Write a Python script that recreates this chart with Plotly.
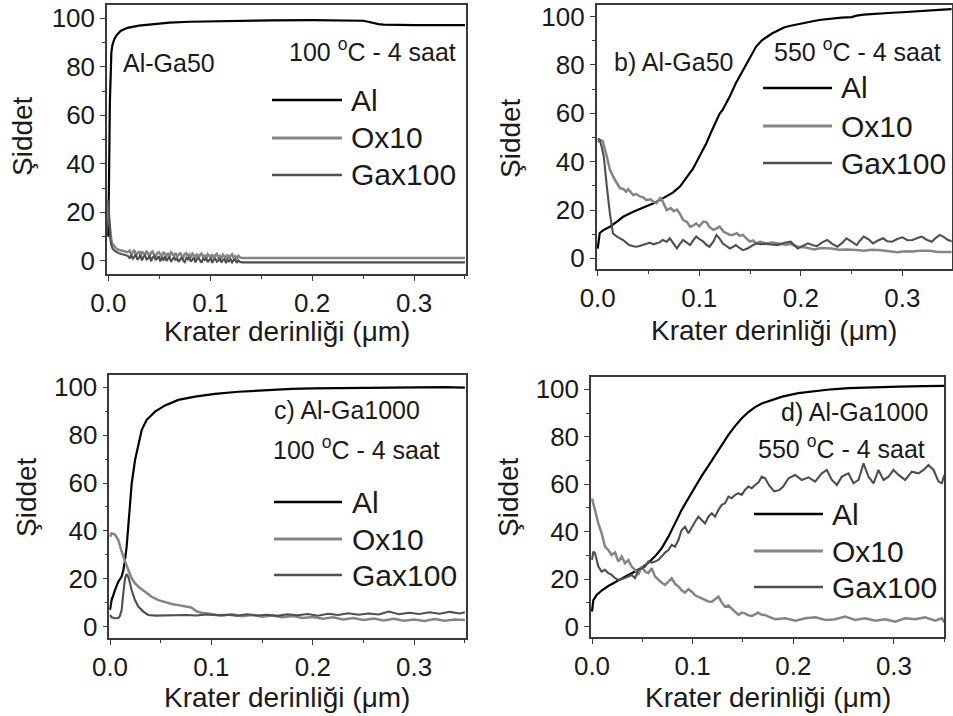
import plotly.graph_objects as go

# ---------------------------------------------------------------------------
# Depth profiles (Krater derinliği in µm) and intensities (Şiddet)
# ---------------------------------------------------------------------------

# a) Al-Ga50, 100 °C - 4 saat
a_al_x = [0, 0.0005, 0.001, 0.0015, 0.002, 0.003, 0.004, 0.006, 0.008, 0.012, 0.016,
          0.02, 0.03, 0.04, 0.05, 0.06, 0.08, 0.1, 0.13, 0.16, 0.2, 0.23, 0.245, 0.25,
          0.255, 0.26, 0.265, 0.27, 0.28, 0.29, 0.3, 0.32, 0.35]
a_al_y = [10, 22, 45, 65, 78, 86, 89, 91.5, 93, 94.8, 95.6,
          96.2, 97, 97.5, 97.9, 98.2, 98.6, 98.8, 99.1, 99.2, 99.3, 99.3, 99.2, 99.0,
          98.6, 98.0, 97.6, 97.4, 97.3, 97.1, 97.2, 97.2, 97.2]
# the two minor profiles share one depth grid
a_low_x = [0, 0.0005, 0.001, 0.002, 0.003, 0.004, 0.006, 0.008, 0.01, 0.013, 0.016, 0.019,
           0.021, 0.0225, 0.024, 0.0255, 0.027, 0.0285, 0.030, 0.0315, 0.033, 0.0345,
           0.036, 0.0375, 0.039, 0.0405, 0.042, 0.0435, 0.045, 0.0465, 0.048, 0.0495,
           0.051, 0.0525, 0.054, 0.0555, 0.057, 0.0585, 0.060, 0.0615, 0.063, 0.0645,
           0.066, 0.0675, 0.069, 0.0705, 0.072, 0.0735, 0.075, 0.0765, 0.078, 0.0795,
           0.081, 0.0825, 0.084, 0.0855, 0.087, 0.0885, 0.090, 0.0915, 0.093, 0.0945,
           0.096, 0.0975, 0.099, 0.1005, 0.102, 0.1035, 0.105, 0.1065, 0.108, 0.1095,
           0.111, 0.1125, 0.114, 0.1155, 0.117, 0.1185, 0.120, 0.1215, 0.123, 0.1245,
           0.126, 0.1275, 0.129, 0.131, 0.2, 0.27, 0.35]
a_ox_y = [20, 18, 15, 11, 8.5, 7, 5.8, 5.0, 4.6, 4.2, 3.8, 3.6,
          4.3, 2.7, 3.6, 4.5, 2.4, 3.1, 4.0, 2.2, 3.9, 3.1,
          2.5, 4.1, 2.8, 2.0, 3.4, 3.9, 2.4, 1.8, 3.2, 3.6,
          2.6, 1.9, 3.7, 2.7, 2.0, 3.2, 1.7, 3.5, 2.8, 2.2,
          3.3, 1.6, 2.5, 3.4, 2.0, 1.5, 2.9, 3.2, 1.8, 2.6,
          1.4, 3.0, 2.3, 1.6, 2.9, 1.3, 2.4, 3.0, 1.7, 2.2,
          1.2, 2.8, 2.1, 1.5, 2.7, 1.1, 2.3, 2.9, 1.4, 2.0,
          1.0, 2.6, 1.9, 1.3, 2.5, 1.0, 2.2, 2.7, 1.2, 1.9,
          0.9, 2.3, 1.4, 1.2, 1.2, 1.1, 1.2]
a_ga_y = [25, 20, 14, 9, 6.5, 5.2, 4.2, 3.6, 3.2, 2.8, 2.4, 2.1,
          1.0, 2.6, 0.7, 1.5, 2.7, 0.5, 1.2, 2.4, 0.2, 1.7,
          2.3, 0.6, 1.0, 2.2, -0.1, 1.4, 2.0, 0.3, 0.9, 1.9,
          -0.2, 1.3, 0.5, 1.8, 0.0, 1.1, 1.7, -0.3, 0.8, 1.6,
          0.2, 1.2, -0.4, 0.9, 1.5, 0.1, -0.5, 1.2, 0.6, 1.4,
          -0.3, 0.5, 1.3, -0.6, 0.7, 1.1, 0.0, -0.7, 0.9, 0.4,
          1.2, -0.5, 0.3, 1.0, -0.8, 0.6, 0.9, -0.3, 0.2, 1.0,
          -0.7, 0.4, 0.8, -0.9, 0.5, -0.2, 0.7, -0.6, 0.3, 0.6,
          -0.8, 0.2, -0.4, -0.6, -0.6, -0.7, -0.6]

# b) Al-Ga50, 550 °C - 4 saat
b_al_x = [0, 0.001, 0.002, 0.0056, 0.012, 0.019, 0.025, 0.035, 0.045, 0.055, 0.064,
          0.074, 0.081, 0.087, 0.094, 0.1, 0.107, 0.112, 0.117, 0.12, 0.123, 0.13,
          0.136, 0.143, 0.15, 0.156, 0.162, 0.172, 0.179, 0.184, 0.19, 0.197, 0.205,
          0.213, 0.22, 0.23, 0.24, 0.25, 0.255, 0.262, 0.27, 0.279, 0.29, 0.3, 0.31,
          0.321, 0.33, 0.34, 0.35]
b_al_y = [4, 9, 10.5, 11.7, 13.1, 15.2, 17.2, 19.3, 21.1, 22.8, 24.8,
          27.2, 29.7, 33.1, 37.2, 42, 47.6, 52.5, 57.2, 59.8, 61.4, 66.9,
          72.4, 77.9, 83.5, 87.6, 90.3, 93.1, 94.6, 95.6, 96.2, 96.9, 97.4,
          98.2, 98.7, 99.3, 99.6, 99.8, 100.4, 100.8, 101.1, 101.4, 101.6, 101.8, 102.1,
          102.6, 102.6, 102.9, 103.1]
b_ox_x = [0, 0.002, 0.005, 0.007, 0.009, 0.012, 0.017, 0.022, 0.025, 0.028, 0.03, 0.035,
          0.038, 0.042, 0.045, 0.048, 0.052, 0.055, 0.058, 0.062, 0.065, 0.068, 0.072,
          0.075, 0.078, 0.081, 0.084, 0.088, 0.091, 0.094, 0.097, 0.1, 0.104, 0.107,
          0.11, 0.114, 0.117, 0.12, 0.124, 0.127, 0.13, 0.133, 0.137, 0.14, 0.143,
          0.147, 0.15, 0.153, 0.156, 0.16, 0.166, 0.172, 0.179, 0.185, 0.19, 0.197,
          0.205, 0.213, 0.22, 0.23, 0.238, 0.245, 0.255, 0.262, 0.27, 0.279, 0.287,
          0.295, 0.303, 0.31, 0.318, 0.327, 0.335, 0.345, 0.35]
b_ox_y = [48, 49, 48.5, 45.5, 42, 36.6, 32.4, 29, 28.8, 27.6, 28.6, 26.2,
          26.6, 25.5, 25.2, 24.1, 24.4, 23.4, 22.8, 25.3, 22.3, 20, 20.8,
          19.5, 20.2, 18.4, 15.9, 15.0, 13.1, 13.5, 14.5, 13.2, 15.2, 15.0,
          13.0, 11.7, 12.4, 13.1, 11.0, 10.3, 9.8, 9.7, 10.4, 9.3, 9.7,
          8.0, 6.9, 7.4, 6.2, 6.8, 6.2, 6.6, 6.2, 5.6, 5.9, 4.8,
          4.5, 3.7, 4.3, 4.1, 3.6, 3.7, 3.5, 3.2, 3.6, 3.4, 2.9,
          2.5, 2.9, 2.8, 3.2, 3.1, 2.6, 2.8, 2.6]
b_ga_x = [0, 0.002, 0.004, 0.006, 0.009, 0.012, 0.015, 0.017, 0.019, 0.022, 0.025, 0.028,
          0.031, 0.035, 0.038, 0.042, 0.045, 0.048, 0.051, 0.055, 0.058, 0.061, 0.064,
          0.068, 0.071, 0.075, 0.078, 0.081, 0.084, 0.088, 0.091, 0.094, 0.097, 0.1,
          0.104, 0.107, 0.11, 0.114, 0.117, 0.12, 0.123, 0.127, 0.13, 0.133, 0.136,
          0.14, 0.143, 0.147, 0.15, 0.153, 0.156, 0.16, 0.166, 0.171, 0.177, 0.184,
          0.19, 0.197, 0.202, 0.207, 0.212, 0.216, 0.221, 0.226, 0.231, 0.236, 0.241,
          0.245, 0.25, 0.255, 0.258, 0.262, 0.267, 0.271, 0.276, 0.281, 0.285, 0.29,
          0.295, 0.3, 0.305, 0.31, 0.315, 0.319, 0.324, 0.329, 0.333, 0.337, 0.341,
          0.345, 0.35]
b_ga_y = [49.5, 49, 46, 42, 29.7, 18.6, 10.3, 9.5, 9, 8.3, 7.6, 6.5,
          5.5, 5.0, 4.8, 5.2, 5.5, 6.0, 6.5, 5.8, 6.2, 6.6, 7.6,
          6.9, 8.3, 6.0, 4.1, 6.0, 7.6, 6.4, 5.5, 7.4, 9.0, 8.0,
          6.9, 5.6, 4.8, 7.0, 9.7, 8.2, 6.2, 5.0, 4.1, 4.7, 5.5,
          4.2, 3.4, 4.0, 4.8, 5.6, 6.2, 5.9, 6.0, 5.7, 5.5, 6.5,
          6.9, 4.1, 5.0, 6.2, 5.4, 5.1, 6.6, 7.6, 6.0, 4.8, 6.5,
          8.3, 6.9, 5.5, 7.2, 9.0, 7.8, 6.2, 7.4, 8.3, 7.1, 6.9,
          8.0, 8.7, 7.5, 7.6, 8.4, 9.0, 7.7, 6.9, 8.5, 9.7, 8.8,
          7.6, 6.8]

# c) Al-Ga1000, 100 °C - 4 saat
c_al_x = [0, 0.0016, 0.0049, 0.0082, 0.0115, 0.0132, 0.0148, 0.0164, 0.018, 0.0197,
          0.0214, 0.0247, 0.028, 0.0313, 0.0362, 0.0444, 0.0543, 0.0674, 0.0839, 0.1036,
          0.1266, 0.153, 0.179, 0.2, 0.25, 0.3, 0.33, 0.35]
c_al_y = [7, 11.1, 15.3, 18.8, 20.9, 23.7, 27.9, 33.4, 41.8, 51.5,
          59.9, 69.6, 76.6, 82.2, 86.4, 89.8, 92.4, 94.7, 96.1, 97.2,
          98.1, 98.8, 99.3, 99.5, 99.8, 100, 100, 99.8]
c_ox_x = [0, 0.0016, 0.0049, 0.0082, 0.0115, 0.0148, 0.018, 0.0214, 0.0247, 0.028,
          0.0345, 0.0411, 0.0477, 0.0543, 0.0609, 0.0674, 0.074, 0.08, 0.085, 0.09,
          0.1, 0.11, 0.12, 0.13, 0.14, 0.15, 0.16, 0.17, 0.18, 0.19, 0.2, 0.21,
          0.22, 0.23, 0.24, 0.25, 0.26, 0.27, 0.28, 0.29, 0.3, 0.31, 0.32, 0.33,
          0.34, 0.35]
c_ox_y = [37.6, 39, 38.5, 36.2, 31.3, 27.2, 23.7, 20.2, 18.1, 16.7,
          14.6, 12.5, 11.1, 10.2, 9.5, 9.0, 8.6, 8.0, 6.5, 5.8,
          5.3, 4.6, 5.2, 4.4, 4.9, 4.2, 4.7, 3.9, 4.5, 3.6, 4.0, 3.3,
          3.9, 3.0, 3.6, 2.8, 3.4, 2.6, 3.3, 2.5, 3.0, 2.4, 3.2, 2.5,
          3.0, 2.8]
c_ga_x = [0, 0.0016, 0.0049, 0.0082, 0.0098, 0.0115, 0.0131, 0.0148, 0.0164, 0.018,
          0.0197, 0.0213, 0.0246, 0.0279, 0.0328, 0.0377, 0.045, 0.055, 0.065, 0.075,
          0.085, 0.095, 0.105, 0.115, 0.125, 0.135, 0.145, 0.155, 0.165, 0.175, 0.185,
          0.195, 0.205, 0.215, 0.225, 0.235, 0.245, 0.255, 0.265, 0.275, 0.285, 0.295,
          0.305, 0.315, 0.325, 0.335, 0.345, 0.35]
c_ga_y = [4.9, 3.9, 3.5, 3.6, 4.5, 7, 13.9, 20.2, 22, 20.9,
          18.1, 15.3, 11.1, 8.4, 6.3, 4.9, 4.6, 4.8, 4.7, 4.9,
          4.7, 5.1, 4.8, 5.0, 4.6, 5.2, 4.7, 5.0, 4.5, 5.2, 4.8,
          5.3, 4.6, 5.4, 4.9, 5.6, 5.0, 5.5, 5.1, 6.3, 5.2, 5.8,
          5.3, 6.0, 5.4, 6.2, 5.5, 6.0]

# d) Al-Ga1000, 550 °C - 4 saat
d_al_x = [0, 0.0013, 0.0046, 0.0096, 0.0162, 0.0229, 0.0295, 0.0361, 0.0427, 0.0494,
          0.056, 0.0626, 0.0692, 0.0759, 0.0825, 0.0891, 0.0958, 0.1024, 0.109, 0.1156,
          0.1223, 0.1289, 0.1355, 0.1421, 0.1488, 0.1554, 0.162, 0.1687, 0.175, 0.189,
          0.205, 0.222, 0.238, 0.255, 0.272, 0.29, 0.305, 0.33, 0.35]
d_al_y = [6.3, 11.2, 13.3, 15.2, 17.1, 18.8, 20.4, 21.8, 23.2, 24.8,
          26.9, 29.6, 33, 37.9, 43.5, 49.2, 54.1, 59, 63.5, 67.7,
          72.3, 76.5, 80.8, 84.5, 87.8, 90.4, 92.5, 94.0, 95.0, 96.9,
          98.4, 99.3, 100.0, 100.5, 100.8, 101.0, 101.1, 101.3, 101.4]
d_ox_x = [0, 0.003, 0.0063, 0.0096, 0.0129, 0.0162, 0.0195, 0.0229, 0.0262, 0.0295,
          0.0328, 0.0361, 0.0394, 0.0427, 0.046, 0.0494, 0.0527, 0.056, 0.0593, 0.0626,
          0.0659, 0.0692, 0.0726, 0.0759, 0.0792, 0.0825, 0.0858, 0.0891, 0.0924, 0.0958,
          0.0991, 0.1024, 0.1057, 0.109, 0.1123, 0.1156, 0.119, 0.1223, 0.1256, 0.1289,
          0.1322, 0.1355, 0.1388, 0.1421, 0.1455, 0.1488, 0.152, 0.1554, 0.1587, 0.162,
          0.165, 0.1687, 0.172, 0.1753, 0.1786, 0.182, 0.192, 0.202, 0.212, 0.222,
          0.232, 0.2416, 0.2515, 0.2614, 0.2714, 0.2813, 0.2913, 0.3012, 0.3111, 0.321,
          0.331, 0.341, 0.3476, 0.35]
d_ox_y = [54, 49, 43.5, 39.3, 33.7, 32.3, 30.2, 31.2, 27.4, 29.5,
          26.7, 28, 25.3, 23.9, 21.8, 25.3, 23.2, 22.5, 24.6, 21.1,
          19.7, 18.5, 17.6, 19.2, 20.4, 18.0, 16.9, 15.3, 14.3, 15.8,
          14.7, 13.2, 12.6, 11.9, 11.2, 10.6, 10.5, 11.4, 12.6, 10.2,
          8.4, 8.9, 7.7, 6.2, 4.9, 5.9, 5.6, 4.8, 4.5, 5.2,
          5.9, 5.0, 4.9, 4.2, 3.5, 3.1, 3.5, 2.5, 3.5, 3.9,
          2.8, 3.1, 4.2, 2.8, 3.5, 2.5, 3.1, 2.1, 3.5, 3.1,
          3.9, 2.5, 3.5, 1.8]
d_ga_x = [0, 0.0013, 0.003, 0.0063, 0.0096, 0.0129, 0.0162, 0.0195, 0.0229, 0.0262,
          0.0295, 0.0328, 0.0361, 0.0394, 0.0427, 0.046, 0.0494, 0.0527, 0.056, 0.0593,
          0.0626, 0.0659, 0.0692, 0.0726, 0.0759, 0.0792, 0.0825, 0.0858, 0.0891, 0.0924,
          0.0958, 0.0991, 0.1024, 0.1057, 0.109, 0.1123, 0.1156, 0.119, 0.1223, 0.1256,
          0.1289, 0.1322, 0.1355, 0.1388, 0.1421, 0.1455, 0.1488, 0.152, 0.1554, 0.1587,
          0.162, 0.1653, 0.1687, 0.172, 0.176, 0.181, 0.186, 0.19, 0.1952, 0.2018,
          0.2084, 0.2151, 0.2217, 0.2283, 0.2333, 0.2383, 0.2432, 0.2482, 0.2548, 0.2598,
          0.2648, 0.2697, 0.2747, 0.2797, 0.2846, 0.2896, 0.2946, 0.2995, 0.3045, 0.3111,
          0.3177, 0.3244, 0.3294, 0.3343, 0.3393, 0.3443, 0.3476, 0.35]
d_ga_y = [28.1, 31.6, 30.9, 25.3, 23.2, 23.9, 22.5, 21.8, 20.4, 19.7,
          20.0, 20.4, 21.1, 21.8, 20.4, 23.9, 24.6, 25.3, 27.4, 27.0,
          27.4, 28.1, 29.5, 31.2, 32.3, 34.4, 33.7, 36.5, 40.7, 42.1,
          39.3, 42.1, 44.2, 46.3, 44.9, 43.5, 46.3, 47.8, 46.3, 49.2,
          51.3, 52, 54.8, 54.1, 55.5, 56.2, 55.5, 57.6, 59, 58.3,
          59.7, 60.7, 63.2, 62.5, 59.5, 57.0, 57.5, 59.0, 62.5, 63.9,
          61.8, 62.9, 61.1, 64.6, 66, 61.8, 59.7, 63.2, 64.6, 60.4,
          61.8, 68.8, 63.2, 60.4, 66, 61.8, 63.2, 66, 63.9, 61.8,
          65.3, 64.6, 66, 68.1, 66, 61.1, 60.4, 63.9]

series_names = ["Al", "Ox10", "Gax100"]
series_colors = ["#000000", "#858585", "#4f4f4f"]
series_widths = [2.2, 2.5, 2.1]

panel_data = [
    [(a_al_x, a_al_y), (a_low_x, a_ox_y), (a_low_x, a_ga_y)],
    [(b_al_x, b_al_y), (b_ox_x, b_ox_y), (b_ga_x, b_ga_y)],
    [(c_al_x, c_al_y), (c_ox_x, c_ox_y), (c_ga_x, c_ga_y)],
    [(d_al_x, d_al_y), (d_ox_x, d_ox_y), (d_ga_x, d_ga_y)],
]
sample_labels = ["Al-Ga50", "b) Al-Ga50", "c) Al-Ga1000", "d) Al-Ga1000"]
condition_labels = ["100 <sup>o</sup>C - 4 saat", "550 <sup>o</sup>C - 4 saat",
                    "100 <sup>o</sup>C - 4 saat", "550 <sup>o</sup>C - 4 saat"]
x_title = "Krater derinliği (μm)"
y_title = "Şiddet"

# ---------------------------------------------------------------------------
# Layout geometry (pixels on a 953 x 716 page)
# ---------------------------------------------------------------------------
W, H = 953, 716


def fx(px):
    return px / W


def fy(py):
    return 1 - py / H


panels = [
    dict(box=(107, 466, 5, 274), xr=[-0.0013, 0.351], yr=[-5.4, 105.5],
         sample=(169, 63), cond=(372, 50), leg=(272, 342, 349, [100, 138, 175]),
         xt=(287, 331), yt=(22, 136)),
    dict(box=(596.7, 951.6, 5, 269), xr=[-0.001, 0.3485], yr=[-4.4, 104.8],
         sample=(674, 62), cond=(857, 50), leg=(763, 832, 839, [88, 126, 163]),
         xt=(774, 330), yt=(511, 138)),
    dict(box=(109.3, 465.7, 375, 638.3), xr=[-0.0007, 0.3508], yr=[-4.85, 105.1],
         sample=(347, 410), cond=(356, 448), leg=(274, 342, 350, [502, 539, 575]),
         xt=(287, 697), yt=(27, 497)),
    dict(box=(591, 944.3, 376.7, 637.3), xr=[-0.001, 0.350], yr=[-4.5, 105.3],
         sample=(854, 412), cond=(841, 447), leg=(754, 823, 830, [514, 551, 587]),
         xt=(768, 697), yt=(509, 497)),
]

FONT = "Liberation Sans, Arial, sans-serif"
TEXT = "#1a1a1a"
AXC = "#3a3a3a"
TICK_SIZE = 26
LABEL_SIZE = 25
LEGEND_SIZE = 30
TITLE_SIZE = 28

fig = go.Figure()
layout = dict(
    width=W, height=H,
    margin=dict(l=0, r=0, t=0, b=0, pad=0, autoexpand=False),
    paper_bgcolor="white", plot_bgcolor="white",
    showlegend=False,
    font=dict(family=FONT, color=TEXT, size=TICK_SIZE),
)
annotations = []
shapes = []


def text_at(text, px, py, size, anchor="center", angle=0):
    return dict(text=text, x=fx(px), y=fy(py), xref="paper", yref="paper",
                showarrow=False, xanchor=anchor, yanchor="middle", textangle=angle,
                font=dict(size=size, family=FONT, color=TEXT))


for i, (p, data) in enumerate(zip(panels, panel_data)):
    n = "" if i == 0 else str(i + 1)
    x0, x1, y0, y1 = p["box"]
    for (xs, ys), name, color, lw in zip(data, series_names, series_colors, series_widths):
        fig.add_trace(go.Scatter(
            x=xs, y=ys, mode="lines", name=name,
            line=dict(color=color, width=lw),
            xaxis="x" + n, yaxis="y" + n, showlegend=False,
        ))
    common = dict(
        showline=True, mirror=True, linecolor=AXC, linewidth=1.5,
        showgrid=False, zeroline=False, automargin=False,
        ticks="outside", ticklen=5, tickwidth=1.3, tickcolor=AXC,
        tickfont=dict(family=FONT, size=TICK_SIZE, color=TEXT),
    )
    layout["xaxis" + n] = dict(
        domain=[fx(x0), fx(x1)], range=p["xr"], anchor="y" + n,
        tick0=0, dtick=0.1, tickformat=".1f",
        minor=dict(ticks="outside", ticklen=3, dtick=0.05, tick0=0, tickcolor=AXC),
        **common,
    )
    layout["yaxis" + n] = dict(
        domain=[fy(y1), fy(y0)], range=p["yr"], anchor="x" + n,
        tick0=0, dtick=20,
        minor=dict(ticks="outside", ticklen=3, dtick=10, tick0=0, tickcolor=AXC),
        **common,
    )

    # sample and treatment labels
    annotations.append(text_at(sample_labels[i], *p["sample"], LABEL_SIZE))
    annotations.append(text_at(condition_labels[i], *p["cond"], LABEL_SIZE))

    # in-plot legend: line sample followed by the series name
    lx0, lx1, tx, rows = p["leg"]
    for name, color, lw, ry in zip(series_names, series_colors, series_widths, rows):
        shapes.append(dict(type="line", xref="paper", yref="paper",
                           x0=fx(lx0), x1=fx(lx1), y0=fy(ry), y1=fy(ry),
                           line=dict(color=color, width=lw + 0.5)))
        annotations.append(text_at(name, tx, ry, LEGEND_SIZE, anchor="left"))

    # axis titles
    annotations.append(text_at(x_title, *p["xt"], TITLE_SIZE))
    annotations.append(text_at(y_title, *p["yt"], TITLE_SIZE, angle=-90))

layout["annotations"] = annotations
layout["shapes"] = shapes
fig.update_layout(**layout)
fig.write_html("out.html")
